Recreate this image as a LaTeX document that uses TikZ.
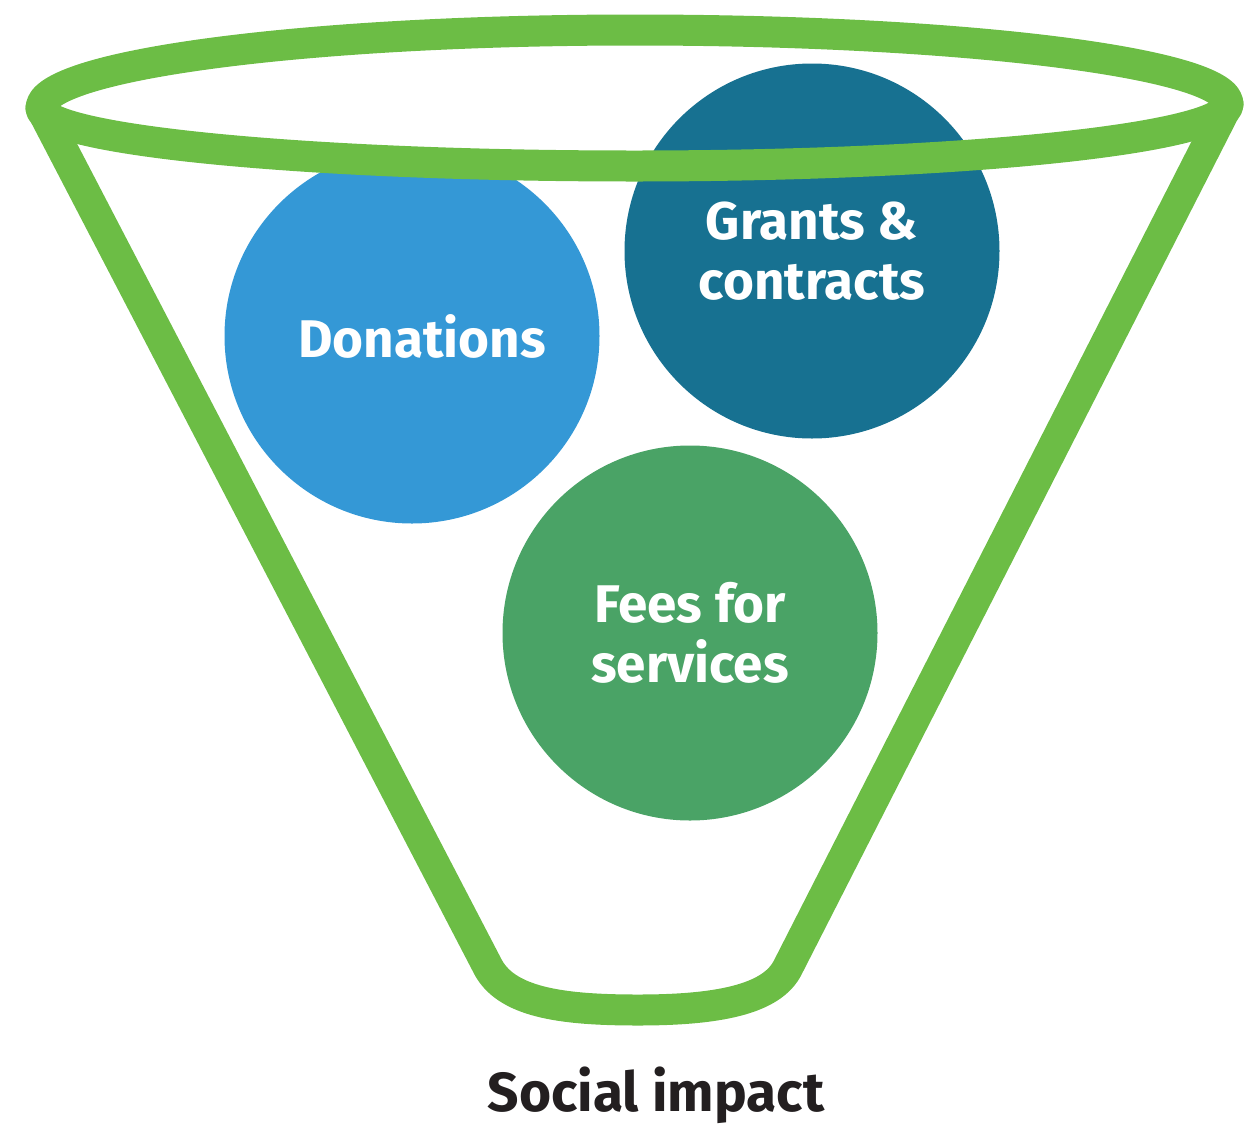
\documentclass[tikz,border=0pt]{standalone}
\usepackage{fontspec}
\setmainfont{Fira Sans}
\definecolor{funnelgreen}{HTML}{6CBD45}
\definecolor{donblue}{HTML}{3498D6}
\definecolor{grantteal}{HTML}{177191}
\definecolor{feegreen}{HTML}{4AA366}
\definecolor{textdark}{HTML}{231F20}
\tikzset{
  bubble/.style={circle, minimum size=375pt, inner sep=0pt, text=white, align=center,
    font=\fontsize{53}{60}\selectfont\bfseries},
  funnelline/.style={draw=funnelgreen, line width=31pt, line join=round, line cap=round},
}
\begin{document}
\begin{tikzpicture}[x=1pt,y=-1pt]
\useasboundingbox (0,0) rectangle (1245,1128);
% bubbles
\node[bubble, fill=donblue] (don) at (412,336) {\hspace*{20pt}Donations};
\node[bubble, fill=grantteal] (grant) at (812,251) {Grants \&\\contracts};
\node[bubble, fill=feegreen] (fee) at (690,633) {Fees for\\services};
% funnel
\coordinate (tl) at (41,108);
\coordinate (tr) at (1228,104);
\coordinate (bl) at (487,965);
\coordinate (br) at (788,967);
\coordinate (bm) at (638,1010);
\draw[funnelline] (tl) arc[start angle=180, end angle=270, x radius=593.5, y radius=78]
  arc[start angle=270, end angle=360, x radius=593.5, y radius=74]
  arc[start angle=0, end angle=90, x radius=593.5, y radius=62]
  arc[start angle=90, end angle=180, x radius=593.5, y radius=58] -- cycle;
\draw[funnelline] (tl) -- (bl) .. controls (505,1002) and (560,1010) .. (bm)
  .. controls (716,1010) and (772,1000) .. (br) -- (tr);
% caption
\node[text=textdark, inner sep=0pt, font=\fontsize{55}{60}\selectfont\bfseries] (cap) at (656,1095) {Social impact};
\end{tikzpicture}
\end{document}
